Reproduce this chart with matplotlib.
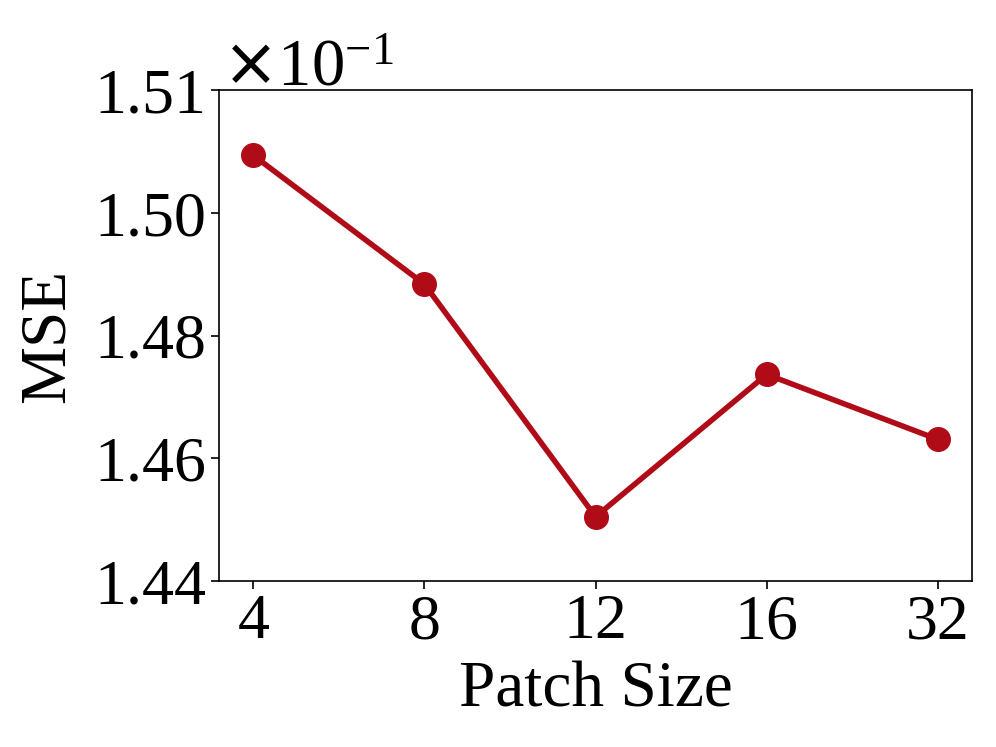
import matplotlib
matplotlib.use('Agg')
import matplotlib.pyplot as plt

# MSE values shown in units of 1e-1
patch_sizes = ['4', '8', '12', '16', '32']
mse = [1.5094, 1.4884, 1.4505, 1.4737, 1.4631]
ytick_vals = [1.44, 1.46, 1.48, 1.50, 1.52]
ytick_labels = ['1.44', '1.46', '1.48', '1.50', '1.51']

plt.rcParams['font.family'] = 'Liberation Serif'

fig = plt.figure(figsize=(9.96, 7.47), dpi=100)
ax = fig.add_axes([0.22, 0.222, 0.756, 0.657])

x = range(len(patch_sizes))
ax.plot(x, mse, color='#B00C18', linewidth=4, marker='o', markersize=17)

ax.set_xlim(-0.2, 4.2)
ax.set_ylim(1.44, 1.52)
ax.set_xticks(list(x))
ax.set_xticklabels(patch_sizes)
ax.set_yticks(ytick_vals)
ax.set_yticklabels(ytick_labels)
ax.tick_params(labelsize=46, length=6, width=1.2)
for s in ax.spines.values():
    s.set_linewidth(1.2)

ax.set_xlabel('Patch Size', fontsize=47, labelpad=6)
ax.set_ylabel('MSE', fontsize=47, labelpad=12)
ax.text(0.004, 1.01, r'$\times\mathdefault{10^{-1}}$', transform=ax.transAxes,
        fontsize=48, ha='left', va='baseline')

fig.savefig('out.png', dpi=100)
